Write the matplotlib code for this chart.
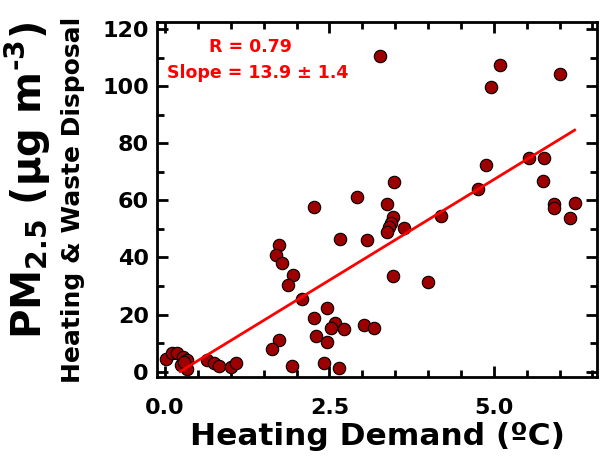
import numpy as np
import matplotlib
matplotlib.use('Agg')
import matplotlib.pyplot as plt
from matplotlib.ticker import MultipleLocator, FormatStrFormatter

plt.rcParams['font.family'] = ['DejaVu Sans']
plt.rcParams['font.weight'] = 'bold'
plt.rcParams['mathtext.fontset'] = 'dejavusans'
plt.rcParams['mathtext.default'] = 'bf'

# values
heating_demand = [3.27, 5.09, 4.96, 6.01, 5.54, 5.77, 5.75, 4.88, 4.76, 3.48,
                  2.92, 2.26, 3.38, 5.92, 5.92, 6.23, 6.16, 3.47, 3.44, 3.41,
                  3.37, 3.64, 4.20, 2.66, 3.07, 1.74, 1.68, 1.78, 1.95, 1.87,
                  3.46, 4.00, 2.09, 2.47, 2.26, 2.58, 2.53, 2.72, 3.02, 3.18,
                  2.30, 2.47, 1.74, 1.63, 1.93, 2.41, 2.64, 0.02, 0.10, 0.18,
                  0.28, 0.34, 0.24, 0.34, 0.29, 0.64, 0.75, 0.82, 1.00, 1.08]
pm25 = [110.5, 107.5, 99.9, 104.3, 74.8, 75.0, 66.8, 72.5, 63.9, 66.6,
        61.2, 57.8, 58.8, 58.8, 57.3, 59.0, 53.7, 54.3, 52.0, 50.6,
        49.1, 50.2, 54.6, 46.5, 46.1, 44.4, 40.9, 38.0, 33.9, 30.4,
        33.6, 31.5, 25.3, 22.2, 18.7, 16.9, 15.4, 14.8, 16.3, 15.2,
        12.5, 10.5, 11.1, 7.9, 1.9, 2.9, 1.1, 4.4, 6.6, 6.6,
        5.2, 4.0, 2.3, 0.9, 3.4, 4.0, 3.1, 1.9, 1.7, 2.9]

fit_slope = 14.1
fit_intercept = -3.2
fit_range = [0.23, 6.23]
r_value = 0.79
slope_text = '13.9 ± 1.4'

fig = plt.figure(figsize=(6, 4.68), dpi=100)
ax = fig.add_axes([0.262, 0.195, 0.733, 0.759])

ax.scatter(heating_demand, pm25, s=80, color='#9c0000', edgecolor='black',
           linewidth=0.8, zorder=3)
fx = np.array(fit_range)
ax.plot(fx, fit_slope * fx + fit_intercept, color='red', lw=2, zorder=4)

ax.set_xlim(-0.12, 6.57)
ax.set_ylim(-1.8, 122.7)
ax.xaxis.set_major_locator(MultipleLocator(2.5))
ax.xaxis.set_minor_locator(MultipleLocator(0.5))
ax.yaxis.set_major_locator(MultipleLocator(20))
ax.yaxis.set_minor_locator(MultipleLocator(10))
ax.xaxis.set_major_formatter(FormatStrFormatter('%.1f'))
ax.tick_params(which='both', direction='in', top=True, right=True, width=2)
ax.tick_params(which='major', length=8, labelsize=16)
ax.tick_params(axis='x', which='major', pad=15)
ax.tick_params(axis='y', which='major', pad=6)
ax.tick_params(which='minor', length=5)
for s in ax.spines.values():
    s.set_linewidth(2)

ax.text(0.213, 0.929, 'R = %.2f' % r_value, transform=ax.transAxes, color='red',
        fontsize=12.5, fontweight='bold', ha='center', va='center')
ax.text(0.2295, 0.855, 'Slope = ' + slope_text, transform=ax.transAxes, color='red',
        fontsize=12.5, fontweight='bold', ha='center', va='center')

ax.set_xlabel('Heating Demand (ºC)', fontsize=22.5, fontweight='bold', labelpad=3)
fig.text(0.047, 0.615, 'PM$_{2.5}$ (μg m$^{\u2010 3}$)', rotation=90, fontsize=29,
         fontweight='bold', ha='center', va='center')
fig.text(0.122, 0.573, 'Heating & Waste Disposal', rotation=90, fontsize=18,
         fontweight='bold', ha='center', va='center')

fig.savefig('out.png', dpi=100)
